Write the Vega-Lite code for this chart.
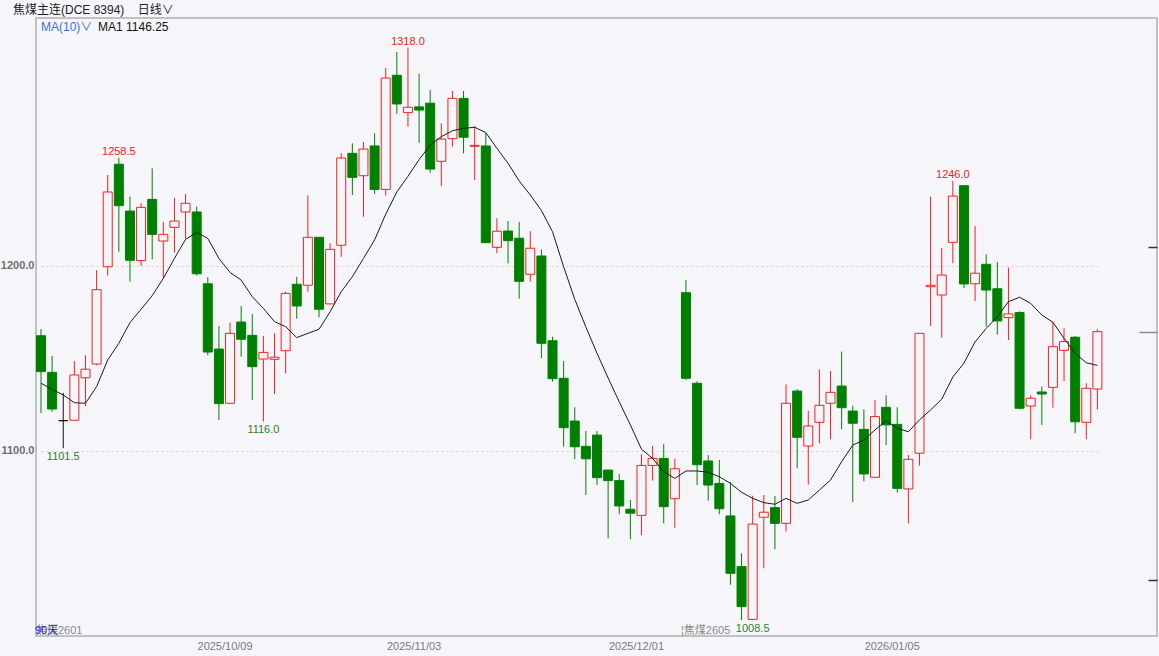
{
  "$schema": "https://vega.github.io/schema/vega-lite/v6.json",
  "autosize": {"type": "none"},
  "padding": {"left": 36, "top": 18, "right": 2, "bottom": 20},
  "width": 1121,
  "height": 618,
  "background": "#f6f6fa",
  "title": {
    "text": "焦煤主连(DCE 8394)\u00a0\u00a0\u00a0\u00a0日线∨",
    "anchor": "start",
    "frame": "group",
    "dx": -23,
    "offset": -8,
    "baseline": "alphabetic",
    "fontSize": 12,
    "fontWeight": "normal",
    "color": "#222222",
    "font": "Liberation Sans, Noto Sans CJK SC"
  },
  "data": {
    "values": [
      {"d": "2025/09/08", "o": 1162.3, "h": 1165.9, "l": 1120.5, "c": 1142.9, "ma": 1136.6},
      {"d": "2025/09/09", "o": 1142.5, "h": 1151.4, "l": 1121.2, "c": 1122.7, "ma": 1133.3},
      {"d": "2025/09/10", "o": 1116.4, "h": 1131.4, "l": 1101.5, "c": 1116.4, "ma": 1130.3},
      {"d": "2025/09/11", "o": 1116.6, "h": 1148.6, "l": 1116.6, "c": 1141.1, "ma": 1126.1},
      {"d": "2025/09/12", "o": 1139.6, "h": 1151.7, "l": 1124.3, "c": 1144.2, "ma": 1125.8},
      {"d": "2025/09/15", "o": 1147.0, "h": 1197.8, "l": 1146.3, "c": 1187.2, "ma": 1134.8},
      {"d": "2025/09/16", "o": 1199.6, "h": 1249.2, "l": 1194.8, "c": 1240.0, "ma": 1149.2},
      {"d": "2025/09/17", "o": 1255.0, "h": 1258.5, "l": 1207.7, "c": 1232.6, "ma": 1158.2},
      {"d": "2025/09/18", "o": 1229.7, "h": 1237.5, "l": 1191.5, "c": 1203.1, "ma": 1169.4},
      {"d": "2025/09/19", "o": 1202.9, "h": 1233.9, "l": 1200.0, "c": 1231.7, "ma": 1176.6},
      {"d": "2025/09/22", "o": 1236.0, "h": 1252.8, "l": 1203.6, "c": 1217.1, "ma": 1184.0},
      {"d": "2025/09/23", "o": 1213.5, "h": 1223.8, "l": 1193.4, "c": 1217.1, "ma": 1193.3},
      {"d": "2025/09/24", "o": 1220.9, "h": 1236.8, "l": 1207.2, "c": 1224.3, "ma": 1204.1},
      {"d": "2025/09/25", "o": 1229.2, "h": 1238.9, "l": 1214.8, "c": 1233.9, "ma": 1214.4},
      {"d": "2025/09/26", "o": 1229.2, "h": 1232.1, "l": 1194.8, "c": 1195.8, "ma": 1218.2},
      {"d": "2025/09/29", "o": 1190.4, "h": 1193.9, "l": 1151.7, "c": 1153.5, "ma": 1214.9},
      {"d": "2025/09/30", "o": 1155.1, "h": 1167.6, "l": 1116.8, "c": 1125.6, "ma": 1204.1},
      {"d": "2025/10/09", "o": 1125.8, "h": 1169.4, "l": 1125.4, "c": 1163.6, "ma": 1196.5},
      {"d": "2025/10/10", "o": 1169.7, "h": 1178.4, "l": 1151.0, "c": 1160.4, "ma": 1192.4},
      {"d": "2025/10/13", "o": 1162.5, "h": 1174.1, "l": 1127.6, "c": 1145.6, "ma": 1183.4},
      {"d": "2025/10/14", "o": 1149.7, "h": 1162.2, "l": 1116.0, "c": 1153.3, "ma": 1177.1},
      {"d": "2025/10/15", "o": 1149.6, "h": 1163.6, "l": 1130.8, "c": 1150.7, "ma": 1169.9},
      {"d": "2025/10/16", "o": 1154.2, "h": 1186.1, "l": 1142.0, "c": 1185.2, "ma": 1167.2},
      {"d": "2025/10/17", "o": 1190.1, "h": 1194.1, "l": 1171.5, "c": 1178.4, "ma": 1161.3},
      {"d": "2025/10/20", "o": 1189.6, "h": 1238.2, "l": 1186.1, "c": 1215.5, "ma": 1163.6},
      {"d": "2025/10/21", "o": 1215.5, "h": 1215.5, "l": 1172.3, "c": 1176.6, "ma": 1165.8},
      {"d": "2025/10/22", "o": 1179.5, "h": 1212.3, "l": 1179.5, "c": 1209.0, "ma": 1175.3},
      {"d": "2025/10/23", "o": 1211.2, "h": 1260.9, "l": 1205.0, "c": 1258.4, "ma": 1186.1},
      {"d": "2025/10/24", "o": 1260.9, "h": 1266.3, "l": 1238.4, "c": 1247.9, "ma": 1194.2},
      {"d": "2025/10/27", "o": 1248.8, "h": 1267.0, "l": 1226.6, "c": 1263.2, "ma": 1204.1},
      {"d": "2025/10/28", "o": 1264.9, "h": 1271.7, "l": 1238.9, "c": 1241.4, "ma": 1214.1},
      {"d": "2025/10/29", "o": 1241.4, "h": 1307.0, "l": 1238.0, "c": 1301.6, "ma": 1228.0},
      {"d": "2025/10/30", "o": 1303.1, "h": 1315.7, "l": 1282.2, "c": 1287.6, "ma": 1240.0},
      {"d": "2025/10/31", "o": 1282.9, "h": 1318.0, "l": 1275.3, "c": 1285.8, "ma": 1248.5},
      {"d": "2025/11/03", "o": 1286.0, "h": 1304.0, "l": 1266.6, "c": 1284.3, "ma": 1257.5},
      {"d": "2025/11/04", "o": 1288.0, "h": 1295.1, "l": 1250.4, "c": 1252.4, "ma": 1265.4},
      {"d": "2025/11/05", "o": 1256.6, "h": 1277.1, "l": 1243.2, "c": 1268.6, "ma": 1269.9},
      {"d": "2025/11/06", "o": 1268.8, "h": 1294.6, "l": 1264.5, "c": 1290.6, "ma": 1273.1},
      {"d": "2025/11/07", "o": 1290.6, "h": 1294.6, "l": 1260.9, "c": 1269.6, "ma": 1274.4},
      {"d": "2025/11/10", "o": 1264.7, "h": 1275.7, "l": 1246.5, "c": 1265.2, "ma": 1275.0},
      {"d": "2025/11/11", "o": 1264.9, "h": 1271.7, "l": 1212.6, "c": 1212.6, "ma": 1272.1},
      {"d": "2025/11/12", "o": 1210.1, "h": 1225.8, "l": 1206.9, "c": 1218.8, "ma": 1263.6},
      {"d": "2025/11/13", "o": 1218.9, "h": 1224.3, "l": 1201.4, "c": 1213.7, "ma": 1255.5},
      {"d": "2025/11/14", "o": 1215.0, "h": 1223.8, "l": 1182.3, "c": 1191.7, "ma": 1246.0},
      {"d": "2025/11/17", "o": 1195.5, "h": 1218.8, "l": 1191.5, "c": 1209.6, "ma": 1238.4},
      {"d": "2025/11/18", "o": 1205.4, "h": 1209.0, "l": 1150.1, "c": 1158.2, "ma": 1230.0},
      {"d": "2025/11/19", "o": 1159.6, "h": 1161.8, "l": 1137.5, "c": 1139.1, "ma": 1218.5},
      {"d": "2025/11/20", "o": 1139.3, "h": 1148.6, "l": 1102.3, "c": 1112.6, "ma": 1199.6},
      {"d": "2025/11/21", "o": 1116.2, "h": 1123.6, "l": 1095.5, "c": 1102.3, "ma": 1182.0},
      {"d": "2025/11/24", "o": 1102.5, "h": 1110.8, "l": 1076.2, "c": 1095.8, "ma": 1167.0},
      {"d": "2025/11/25", "o": 1108.6, "h": 1110.8, "l": 1081.6, "c": 1085.6, "ma": 1152.8},
      {"d": "2025/11/26", "o": 1089.7, "h": 1089.7, "l": 1052.8, "c": 1084.0, "ma": 1139.5},
      {"d": "2025/11/27", "o": 1084.0, "h": 1087.6, "l": 1065.8, "c": 1070.3, "ma": 1126.6},
      {"d": "2025/11/28", "o": 1068.5, "h": 1073.5, "l": 1052.3, "c": 1066.4, "ma": 1114.1},
      {"d": "2025/12/01", "o": 1065.2, "h": 1098.2, "l": 1054.6, "c": 1092.2, "ma": 1101.0},
      {"d": "2025/12/02", "o": 1092.2, "h": 1102.7, "l": 1084.0, "c": 1096.0, "ma": 1096.0},
      {"d": "2025/12/03", "o": 1096.0, "h": 1103.8, "l": 1060.9, "c": 1069.9, "ma": 1088.8},
      {"d": "2025/12/04", "o": 1074.2, "h": 1095.9, "l": 1058.5, "c": 1090.4, "ma": 1085.2},
      {"d": "2025/12/05", "o": 1185.6, "h": 1192.4, "l": 1138.4, "c": 1139.3, "ma": 1089.2},
      {"d": "2025/12/08", "o": 1136.6, "h": 1137.8, "l": 1081.6, "c": 1092.6, "ma": 1089.2},
      {"d": "2025/12/09", "o": 1094.6, "h": 1097.8, "l": 1073.1, "c": 1081.6, "ma": 1088.5},
      {"d": "2025/12/10", "o": 1082.5, "h": 1095.1, "l": 1065.8, "c": 1068.8, "ma": 1086.1},
      {"d": "2025/12/11", "o": 1064.9, "h": 1083.2, "l": 1027.7, "c": 1033.9, "ma": 1082.5},
      {"d": "2025/12/12", "o": 1037.5, "h": 1044.7, "l": 1008.6, "c": 1015.9, "ma": 1077.7},
      {"d": "2025/12/15", "o": 1009.0, "h": 1075.8, "l": 1008.5, "c": 1060.5, "ma": 1074.4},
      {"d": "2025/12/16", "o": 1064.2, "h": 1076.2, "l": 1036.6, "c": 1066.9, "ma": 1072.1},
      {"d": "2025/12/17", "o": 1069.4, "h": 1075.7, "l": 1046.9, "c": 1060.9, "ma": 1071.2},
      {"d": "2025/12/18", "o": 1060.9, "h": 1136.0, "l": 1056.4, "c": 1125.8, "ma": 1074.4},
      {"d": "2025/12/19", "o": 1132.4, "h": 1133.3, "l": 1090.6, "c": 1107.4, "ma": 1071.7},
      {"d": "2025/12/22", "o": 1102.7, "h": 1121.8, "l": 1081.8, "c": 1113.5, "ma": 1073.5},
      {"d": "2025/12/23", "o": 1115.5, "h": 1144.1, "l": 1104.2, "c": 1124.7, "ma": 1078.9},
      {"d": "2025/12/24", "o": 1125.8, "h": 1143.2, "l": 1106.3, "c": 1131.7, "ma": 1084.3},
      {"d": "2025/12/25", "o": 1135.1, "h": 1153.7, "l": 1111.7, "c": 1123.4, "ma": 1094.2},
      {"d": "2025/12/26", "o": 1121.6, "h": 1124.5, "l": 1072.3, "c": 1115.0, "ma": 1103.2},
      {"d": "2025/12/29", "o": 1111.7, "h": 1122.5, "l": 1083.6, "c": 1087.6, "ma": 1105.9},
      {"d": "2025/12/30", "o": 1085.8, "h": 1127.6, "l": 1085.8, "c": 1118.6, "ma": 1111.4},
      {"d": "2025/12/31", "o": 1123.6, "h": 1130.1, "l": 1103.2, "c": 1114.1, "ma": 1116.4},
      {"d": "2026/01/05", "o": 1114.4, "h": 1123.6, "l": 1077.5, "c": 1079.8, "ma": 1112.3},
      {"d": "2026/01/06", "o": 1079.5, "h": 1097.8, "l": 1060.9, "c": 1095.5, "ma": 1110.4},
      {"d": "2026/01/07", "o": 1098.8, "h": 1163.6, "l": 1092.1, "c": 1163.6, "ma": 1116.8},
      {"d": "2026/01/08", "o": 1188.8, "h": 1237.5, "l": 1167.6, "c": 1189.6, "ma": 1122.2},
      {"d": "2026/01/09", "o": 1184.3, "h": 1209.7, "l": 1161.2, "c": 1195.1, "ma": 1128.0},
      {"d": "2026/01/12", "o": 1212.8, "h": 1246.0, "l": 1201.5, "c": 1237.8, "ma": 1140.0},
      {"d": "2026/01/13", "o": 1243.4, "h": 1243.8, "l": 1188.0, "c": 1190.3, "ma": 1147.5},
      {"d": "2026/01/14", "o": 1190.4, "h": 1221.6, "l": 1181.1, "c": 1196.1, "ma": 1159.0},
      {"d": "2026/01/15", "o": 1200.9, "h": 1206.3, "l": 1167.2, "c": 1187.0, "ma": 1166.2},
      {"d": "2026/01/16", "o": 1187.7, "h": 1202.2, "l": 1162.9, "c": 1170.3, "ma": 1172.6},
      {"d": "2026/01/19", "o": 1172.1, "h": 1199.1, "l": 1160.0, "c": 1174.1, "ma": 1180.7},
      {"d": "2026/01/20", "o": 1174.8, "h": 1175.5, "l": 1122.5, "c": 1123.1, "ma": 1183.1},
      {"d": "2026/01/21", "o": 1124.3, "h": 1130.1, "l": 1106.3, "c": 1128.5, "ma": 1179.8},
      {"d": "2026/01/22", "o": 1131.9, "h": 1134.8, "l": 1114.1, "c": 1130.8, "ma": 1173.5},
      {"d": "2026/01/23", "o": 1134.4, "h": 1169.9, "l": 1123.4, "c": 1156.4, "ma": 1169.6},
      {"d": "2026/01/26", "o": 1154.4, "h": 1166.3, "l": 1137.8, "c": 1159.1, "ma": 1160.9},
      {"d": "2026/01/27", "o": 1161.5, "h": 1162.2, "l": 1109.6, "c": 1115.8, "ma": 1152.8},
      {"d": "2026/01/28", "o": 1115.5, "h": 1136.6, "l": 1106.3, "c": 1133.9, "ma": 1147.7},
      {"d": "2026/01/29", "o": 1133.5, "h": 1165.8, "l": 1122.5, "c": 1164.5, "ma": 1146.25}
    ]
  },
  "encoding": {
    "x": {
      "field": "d",
      "type": "ordinal",
      "sort": null,
      "scale": {"type": "point", "padding": 0, "range": [5, 1061.4], "round": false},
      "axis": {
        "values": ["2025/10/09", "2025/11/03", "2025/12/01", "2026/01/05"],
        "title": null,
        "domain": false,
        "ticks": false,
        "grid": false,
        "labelAngle": 0,
        "labelColor": "#7a7a7a",
        "labelFontSize": 11,
        "labelFont": "Liberation Sans",
        "labelPadding": 4,
        "labelOffset": -5.5
      }
    }
  },
  "layer": [
    {
      "mark": {"type": "rule", "strokeWidth": 1},
      "encoding": {
        "y": {
          "field": "l",
          "type": "quantitative",
          "scale": {"domain": [1000, 1334.05], "nice": false, "zero": false},
          "axis": {
            "orient": "left",
            "values": [1100, 1200],
            "format": ".1f",
            "title": null,
            "grid": true,
            "gridColor": "#d2d2d2",
            "gridDash": [2, 3],
            "gridWidth": 1,
            "ticks": false,
            "domain": false,
            "labelColor": "#6e6e6e",
            "labelFontSize": 11,
            "labelFontWeight": "bold",
            "labelFont": "Liberation Sans",
            "labelPadding": 2
          }
        },
        "y2": {"field": "h"},
        "color": {
          "condition": [
            {"test": "datum.c > datum.o", "value": "#f22020"},
            {"test": "datum.c < datum.o", "value": "#008000"}
          ],
          "value": "#111111"
        }
      }
    },
    {
      "mark": {"type": "bar", "width": 9, "strokeWidth": 1},
      "encoding": {
        "y": {
          "field": "o",
          "type": "quantitative",
          "scale": {"domain": [1000, 1334.05], "nice": false, "zero": false},
          "axis": {
            "orient": "right",
            "values": [1210, 1164.5, 1030],
            "labels": false,
            "title": null,
            "grid": false,
            "domain": false,
            "ticks": true,
            "tickSize": {"condition": {"test": "datum.value == 1164.5", "value": -18}, "value": -9},
            "tickColor": {"condition": {"test": "datum.value == 1164.5", "value": "#8c8c8c"}, "value": "#333333"},
            "tickWidth": 1.5
          }
        },
        "y2": {"field": "c"},
        "fill": {
          "condition": [
            {"test": "datum.c > datum.o", "value": "#f6f6fa"},
            {"test": "datum.c < datum.o", "value": "#008000"}
          ],
          "value": "#111111"
        },
        "stroke": {
          "condition": [
            {"test": "datum.c > datum.o", "value": "#f22020"},
            {"test": "datum.c < datum.o", "value": "#008000"}
          ],
          "value": "#111111"
        }
      }
    },
    {
      "mark": {"type": "line", "strokeWidth": 1},
      "encoding": {
        "y": {
          "field": "ma",
          "type": "quantitative",
          "scale": {"domain": [1000, 1334.05], "nice": false, "zero": false},
          "axis": null
        },
        "stroke": {
          "datum": "MA1 1146.25",
          "type": "nominal",
          "scale": {"range": ["#1a1a1a"]},
          "legend": {
            "orient": "none",
            "legendX": 5,
            "legendY": 3,
            "padding": 0,
            "title": "MA(10)∨",
            "titleOrient": "left",
            "titleColor": "#3a6fd8",
            "titleFontSize": 12,
            "titleFontWeight": "normal",
            "titleFont": "Liberation Sans, Noto Sans CJK SC",
            "titlePadding": -7,
            "labelFontSize": 12,
            "labelColor": "#111111",
            "labelFont": "Liberation Sans",
            "labelOffset": 0,
            "symbolSize": 0,
            "symbolOpacity": 0,
            "symbolStrokeWidth": 0
          }
        }
      }
    },
    {
      "data": {
        "values": [
          {"d": "2025/09/17", "p": 1258.5, "t": "1258.5"},
          {"d": "2025/10/31", "p": 1318.0, "t": "1318.0"},
          {"d": "2026/01/12", "p": 1246.0, "t": "1246.0"}
        ]
      },
      "mark": {"type": "text", "baseline": "bottom", "dy": -1, "fontSize": 11, "font": "Liberation Sans", "color": "#f22020"},
      "encoding": {
        "y": {"field": "p", "type": "quantitative", "scale": {"domain": [1000, 1334.05], "nice": false, "zero": false}, "axis": null},
        "text": {"field": "t"}
      }
    },
    {
      "data": {
        "values": [
          {"d": "2025/09/10", "p": 1101.5, "t": "1101.5"},
          {"d": "2025/10/14", "p": 1116.0, "t": "1116.0"},
          {"d": "2025/12/15", "p": 1008.5, "t": "1008.5"}
        ]
      },
      "mark": {"type": "text", "baseline": "top", "dy": 3, "fontSize": 11, "font": "Liberation Sans", "color": "#2f7f2a"},
      "encoding": {
        "y": {"field": "p", "type": "quantitative", "scale": {"domain": [1000, 1334.05], "nice": false, "zero": false}, "axis": null},
        "text": {"field": "t"}
      }
    },
    {
      "data": {
        "values": [
          {"d": "2025/09/08", "p": 1000, "t": "焦煤2601"},
          {"d": "2025/12/05", "p": 1000, "t": "¦焦煤2605"}
        ]
      },
      "mark": {"type": "text", "align": "left", "baseline": "alphabetic", "dx": -5, "dy": -2, "fontSize": 11, "font": "Liberation Sans, Noto Sans CJK SC", "color": "#8a8a8a"},
      "encoding": {
        "y": {"field": "p", "type": "quantitative", "scale": {"domain": [1000, 1334.05], "nice": false, "zero": false}, "axis": null},
        "text": {"field": "t"}
      }
    },
    {
      "data": {
        "values": [
          {"d": "2025/09/08", "p": 1000, "t": "90天"}
        ]
      },
      "mark": {"type": "text", "align": "left", "baseline": "alphabetic", "dx": -6, "dy": -2, "fontSize": 11, "font": "Liberation Sans, Noto Sans CJK SC", "color": "#2a2acc"},
      "encoding": {
        "y": {"field": "p", "type": "quantitative", "scale": {"domain": [1000, 1334.05], "nice": false, "zero": false}, "axis": null},
        "text": {"field": "t"}
      }
    }
  ],
  "resolve": {"axis": {"y": "independent"}},
  "config": {
    "view": {"stroke": "#b0b0b0", "strokeWidth": 1.5}
  }
}
